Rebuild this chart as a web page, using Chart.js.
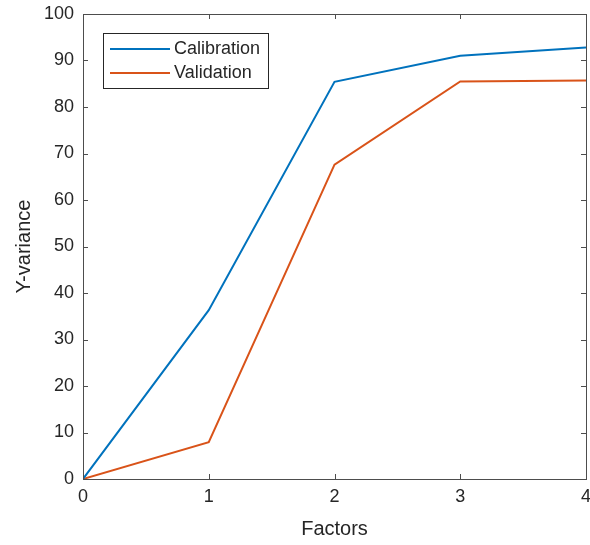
<!DOCTYPE html>
<html>
<head>
<meta charset="utf-8">
<script src="https://cdn.jsdelivr.net/npm/chart.js@4"></script>
<style>
  body { margin: 0; background: #fff; }
  #wrap { width: 590px; height: 545px; }
</style>
</head>
<body>
<div id="wrap"><canvas id="varChart" width="590" height="545"></canvas></div>
<script>
const factors = [0, 1, 2, 3, 4];
const calibration = [0, 36.3, 85.4, 91.0, 92.8];
const validation = [0, 7.9, 67.6, 85.5, 85.7];
const yTicks = [0, 10, 20, 30, 40, 50, 60, 70, 80, 90, 100];

const axisColor = '#4d4d4d';
const font = 'Liberation Sans, Arial, sans-serif';

// box + inward ticks, matlab style
const boxPlugin = {
    id: 'box',
    afterDraw(chart) {
        const { ctx, chartArea: a, scales } = chart;
        ctx.save();
        ctx.strokeStyle = axisColor;
        ctx.lineWidth = 1;
        ctx.strokeRect(a.left + 0.5, a.top + 0.5, a.right - a.left, a.bottom - a.top);
        ctx.beginPath();
        factors.forEach(v => {
            const x = Math.round(scales.x.getPixelForValue(v)) + 0.5;
            ctx.moveTo(x, a.bottom); ctx.lineTo(x, a.bottom - 5);
            ctx.moveTo(x, a.top); ctx.lineTo(x, a.top + 5);
        });
        yTicks.forEach(v => {
            const y = Math.round(scales.y.getPixelForValue(v)) + 0.5;
            ctx.moveTo(a.left, y); ctx.lineTo(a.left + 5, y);
            ctx.moveTo(a.right, y); ctx.lineTo(a.right - 5, y);
        });
        ctx.stroke();

        // legend inside the plot
        const lx = 103, ly = 33, lw = 165, lh = 55;
        ctx.fillStyle = '#fff';
        ctx.fillRect(lx, ly, lw, lh);
        ctx.strokeStyle = '#262626';
        ctx.strokeRect(lx + 0.5, ly + 0.5, lw, lh);
        ctx.font = '18px ' + font;
        ctx.textBaseline = 'middle';
        chart.data.datasets.forEach((ds, i) => {
            const y = ly + 16 + i * 24;
            ctx.strokeStyle = ds.borderColor;
            ctx.lineWidth = 2;
            ctx.beginPath();
            ctx.moveTo(lx + 7, y); ctx.lineTo(lx + 67, y);
            ctx.stroke();
            ctx.fillStyle = '#262626';
            ctx.fillText(ds.label, lx + 71, y);
        });
        ctx.restore();
    }
};

const ctx = document.getElementById('varChart').getContext('2d');

new Chart(ctx, {
    type: 'line',
    data: {
        datasets: [{
            label: 'Calibration',
            data: factors.map((f, i) => ({ x: f, y: calibration[i] })),
            borderColor: '#0072BD',
            borderWidth: 2,
            pointRadius: 0,
            tension: 0
        }, {
            label: 'Validation',
            data: factors.map((f, i) => ({ x: f, y: validation[i] })),
            borderColor: '#D95319',
            borderWidth: 2,
            pointRadius: 0,
            tension: 0
        }]
    },
    options: {
        responsive: false,
        animation: false,
        layout: { padding: { top: 14, right: 4, left: 0, bottom: 0 } },
        plugins: {
            legend: { display: false },
            tooltip: { enabled: false }
        },
        scales: {
            x: {
                type: 'linear',
                min: 0,
                max: 4,
                afterBuildTicks: s => { s.ticks = factors.map(v => ({ value: v })); },
                afterFit: s => { s.height = 66; s.paddingLeft = 0; s.paddingRight = 0; },
                grid: { display: false, drawTicks: false },
                border: { display: false },
                ticks: { color: '#262626', font: { family: font, size: 18 }, padding: 7 },
                title: { display: true, text: 'Factors', color: '#262626', font: { family: font, size: 20 }, padding: { top: 2 } }
            },
            y: {
                min: 0,
                max: 100,
                afterBuildTicks: s => { s.ticks = yTicks.map(v => ({ value: v })); },
                afterFit: s => { s.width = 83; s.paddingTop = 0; s.paddingBottom = 0; },
                grid: { display: false, drawTicks: false },
                border: { display: false },
                ticks: { color: '#262626', font: { family: font, size: 18 }, padding: 9 },
                title: { display: true, text: 'Y-variance', color: '#262626', font: { family: font, size: 20 }, padding: { top: 12, bottom: 0 } }
            }
        }
    },
    plugins: [boxPlugin]
});
</script>
</body>
</html>
